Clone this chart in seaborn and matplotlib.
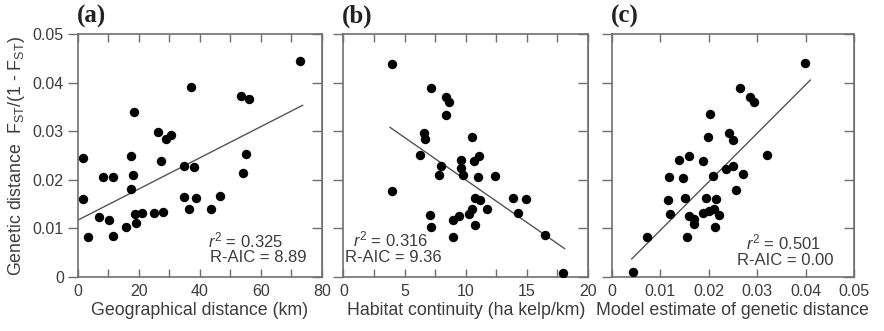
import numpy as np
import pandas as pd
import seaborn as sns
import matplotlib.pyplot as plt
from matplotlib.ticker import MultipleLocator, FuncFormatter

# (a) geographical distance
geo_km = [1.6, 1.9, 3.3, 7.1, 8.4, 10.1, 11.5, 11.7, 15.7, 17.5, 17.6, 18.0,
          18.5, 18.8, 19.1, 21.0, 25.0, 26.2, 27.3, 28.1, 28.9, 30.6, 34.9,
          35.0, 36.6, 37.2, 38.0, 38.8, 43.7, 46.7, 53.4, 54.1, 55.2, 56.2, 72.9]
geo_fst = [0.0245, 0.0160, 0.0083, 0.0124, 0.0207, 0.0117, 0.0206, 0.0085,
           0.0104, 0.0182, 0.0250, 0.0211, 0.0339, 0.0130, 0.0111, 0.0131,
           0.0131, 0.0299, 0.0239, 0.0134, 0.0284, 0.0292, 0.0228, 0.0164,
           0.0141, 0.0392, 0.0226, 0.0162, 0.0141, 0.0166, 0.0372, 0.0214,
           0.0254, 0.0367, 0.0444]

# (b) habitat continuity
hab_cont = [3.95, 4.0, 7.2, 8.4, 8.65, 8.35, 6.6, 6.7, 6.3, 8.0, 7.8, 9.65,
            9.6, 9.8, 10.55, 10.7, 11.1, 10.97, 12.4, 10.75, 11.2, 10.55,
            10.3, 11.75, 10.8, 7.1, 7.2, 9.0, 9.45, 8.98, 13.9, 14.9, 14.3,
            16.5, 17.95]
hab_fst = [0.0439, 0.0177, 0.0389, 0.0370, 0.0361, 0.0334, 0.0297, 0.0284,
           0.0252, 0.0229, 0.0211, 0.0242, 0.0225, 0.0211, 0.0288, 0.0240,
           0.0250, 0.0206, 0.0209, 0.0163, 0.0158, 0.0141, 0.0129, 0.0140,
           0.0108, 0.0127, 0.0103, 0.0117, 0.0125, 0.0082, 0.0163, 0.0161,
           0.0131, 0.0086, 0.0009]

# (c) model estimate
model_est = [0.0043, 0.0072, 0.0119, 0.0117, 0.0121, 0.0139, 0.0147, 0.0152,
             0.0160, 0.0159, 0.0155, 0.0170, 0.0169, 0.0189, 0.0188, 0.0194,
             0.0199, 0.0203, 0.0201, 0.0208, 0.0212, 0.0216, 0.0213, 0.0222,
             0.0235, 0.0243, 0.0250, 0.0250, 0.0257, 0.0270, 0.0264, 0.0286,
             0.0294, 0.0321, 0.0399]
model_fst = [0.0010, 0.0083, 0.0206, 0.0158, 0.0129, 0.0241, 0.0204, 0.0163,
             0.0250, 0.0125, 0.0082, 0.0120, 0.0109, 0.0239, 0.0131, 0.0162,
             0.0288, 0.0335, 0.0135, 0.0209, 0.0141, 0.0160, 0.0102, 0.0127,
             0.0223, 0.0297, 0.0283, 0.0228, 0.0180, 0.0213, 0.0389, 0.0370,
             0.0361, 0.0252, 0.0441]

# fitted lines: intercept, slope, x range
fit_intercept = [0.0117, 0.0375, -0.0004]
fit_slope = [0.000321, -0.00175, 1.0]
fit_from = [0, 3.8, 0.0041]
fit_to = [73.8, 18.1, 0.0410]

panel_tags = ["(a)", "(b)", "(c)"]
x_labels = ["Geographical distance (km)", "Habitat continuity (ha kelp/km)",
            "Model estimate of genetic distance"]
r2_texts = [r"$r^2$ = 0.325", r"$r^2$ = 0.316", r"$r^2$ = 0.501"]
aic_texts = ["R-AIC = 8.89", "R-AIC = 9.36", "R-AIC = 0.00"]

sns.set_style("ticks")
plt.rcParams["font.family"] = ["Liberation Sans", "DejaVu Sans"]
plt.rcParams["mathtext.fontset"] = "custom"
plt.rcParams["mathtext.rm"] = "Liberation Sans"
plt.rcParams["mathtext.it"] = "Liberation Sans:italic"

txt = "#3c3c3c"
edge = "#707070"

fig = plt.figure(figsize=(8.84, 3.31), dpi=100)
boxes = [[0.0879, 0.1631, 0.2760, 0.7333],
         [0.3884, 0.1631, 0.2768, 0.7333],
         [0.6920, 0.1631, 0.2741, 0.7333]]
axes = [fig.add_axes(b) for b in boxes]

data = [(geo_km, geo_fst), (hab_cont, hab_fst), (model_est, model_fst)]
xlims = [(0, 80), (0, 20), (0, 0.05)]
majors = [20, 5, 0.01]
minors = [10, 2.5, 0.01]
# where the r2 / R-AIC text goes (axes fraction, left edge)
r2_pos = [(0.534, 0.150), (0.041, 0.153), (0.553, 0.143)]
aic_pos = [(0.543, 0.080), (0.007, 0.082), (0.516, 0.070)]

for i, ax in enumerate(axes):
    x, y = data[i]
    df = pd.DataFrame({"x": x, "y": y})
    sns.scatterplot(data=df, x="x", y="y", ax=ax, color="black", s=46,
                    linewidth=0, zorder=3)
    fit = pd.DataFrame({"x": [fit_from[i], fit_to[i]]})
    fit["y"] = fit_intercept[i] + fit_slope[i] * fit["x"]
    sns.lineplot(data=fit, x="x", y="y", ax=ax, color="#555555", lw=1.0,
                 zorder=2)

    ax.set_xlim(*xlims[i])
    ax.set_ylim(0, 0.05)
    ax.xaxis.set_major_locator(MultipleLocator(majors[i]))
    ax.xaxis.set_minor_locator(MultipleLocator(minors[i]))
    ax.yaxis.set_major_locator(MultipleLocator(0.01))
    fmt = FuncFormatter(lambda v, p: "0" if abs(v) < 1e-12 else f"{v:g}")
    ax.xaxis.set_major_formatter(fmt)
    ax.yaxis.set_major_formatter(fmt)

    ax.tick_params(axis="x", which="both", direction="in", top=True,
                   length=6, width=1, color=edge, labelsize=11.5,
                   labelcolor=txt, pad=5)
    ax.tick_params(axis="y", direction="out", length=7, width=1, color=edge,
                   labelsize=11.5, labelcolor=txt, pad=3, labelleft=(i == 0))
    sec = ax.secondary_yaxis("right")
    sec.yaxis.set_major_locator(MultipleLocator(0.01))
    sec.tick_params(direction="in", length=7, width=1, color=edge,
                    labelright=False)
    sec.spines["right"].set_color(edge)
    for s in ax.spines.values():
        s.set_visible(True)
        s.set_color(edge)
        s.set_linewidth(1.2)

    ax.set_xlabel(x_labels[i], fontsize=12.8, color=txt, labelpad=2)
    ax.set_ylabel("")
    ax.text(-0.005, 1.025, panel_tags[i], transform=ax.transAxes,
            family=["Liberation Serif"], fontweight="bold", fontsize=18,
            color="#222222", ha="left", va="bottom")
    ax.text(*r2_pos[i], r2_texts[i], transform=ax.transAxes, fontsize=12,
            color=txt, ha="left", va="center")
    ax.text(*aic_pos[i], aic_texts[i], transform=ax.transAxes, fontsize=12,
            color=txt, ha="left", va="center")

axes[0].set_ylabel(r"Genetic distance  F$_{\mathrm{ST}}$/(1 - F$_{\mathrm{ST}}$)",
                   fontsize=12.8, color=txt, labelpad=4)

plt.savefig("out.png", dpi=100)
